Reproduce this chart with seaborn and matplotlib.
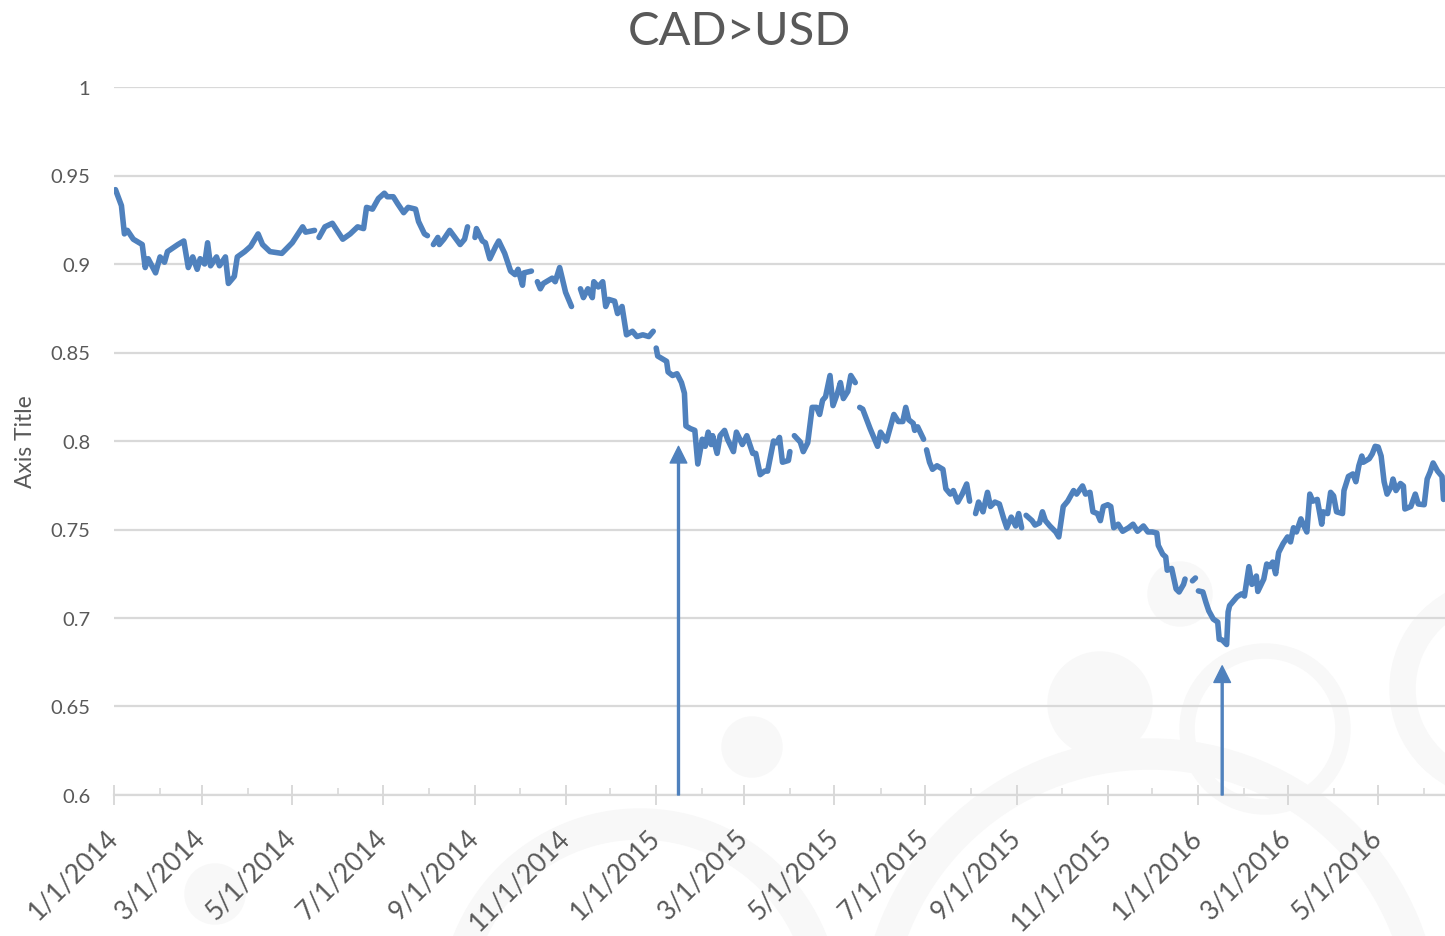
import numpy as np
import pandas as pd
import matplotlib
matplotlib.use('Agg')
import matplotlib.pyplot as plt
from matplotlib.patches import Circle, Wedge
import seaborn as sns

# CAD>USD daily rate (day offset from 1/1/2014, value); nan = gap in the line
days = [
    1, 5, 7, 9, 13, 19, 21, 23, 28, 31, 34, 36, 43, 47, 50, 53, 56, 58, 61, 63,
    65, 69, 71, 75, 77, 81, 83, 88, 92, 97, 100, 105, 113, 120, 127, 129, 135, 136, 138, 142,
    147, 154, 159, 164, 168, 170, 174, 178, 182, 184, 188, 191, 195, 198, 203, 205, 209, 211, 212, 215,
    218, 219, 222, 226, 233, 236, 238, 240, 243, 244, 248, 250, 253, 257, 259, 263, 267, 270, 272, 275,
    276, 281, 283, 285, 287, 289, 295, 297, 300, 304, 308, 310, 314, 316, 319, 322, 323, 326, 329, 331,
    333, 337, 339, 342, 345, 349, 352, 356, 360, 363, 364, 365, 366, 370, 372, 373, 376, 379, 382, 384,
    385, 388, 391, 393, 396, 398, 400, 402, 403, 406, 408, 411, 413, 417, 419, 423, 426, 430, 432, 435,
    438, 440, 444, 446, 448, 450, 454, 455, 456, 458, 462, 464, 467, 470, 473, 475, 477, 479, 482, 484,
    487, 489, 491, 494, 496, 499, 501, 502, 504, 509, 511, 514, 516, 520, 525, 528, 531, 533, 535, 538,
    539, 541, 545, 546, 547, 549, 551, 554, 558, 560, 563, 565, 568, 571, 574, 576, 577, 580, 582, 585,
    588, 590, 593, 596, 599, 601, 604, 607, 609, 611, 612, 614, 618, 620, 623, 625, 627, 630, 634, 636,
    639, 642, 646, 647, 648, 652, 654, 657, 659, 662, 664, 666, 669, 671, 673, 676, 679, 683, 686, 689,
    693, 696, 699, 702, 703, 706, 708, 709, 712, 715, 717, 720, 721, 723, 726, 728, 729, 730, 733, 735,
    737, 740, 743, 744, 746, 749, 750, 751, 753, 756, 759, 761, 764, 766, 769, 770, 774, 776, 778, 780,
    782, 784, 787, 790, 792, 794, 796, 799, 801, 803, 805, 807, 810, 813, 814, 817, 819, 821, 823, 827,
    828, 831, 834, 836, 838, 840, 841, 845, 847, 849, 851, 853, 855, 857, 860, 861, 863, 866, 868, 869,
    873, 876, 878, 882, 884, 886, 888, 891, 894, 895,
]
nan = np.nan
rates = [
    .942, .933, .917, .919, .914, .911, .898, .903, .895, .904, .901, .907, .911, .913, .898, .904, .897, .903, .900, .912,
    .899, .904, .899, .904, .889, .893, .904, .907, .910, .917, .911, .907, .906, .912, .921, .918, .919, nan, .915, .921,
    .923, .914, .917, .921, .920, .932, .931, .937, .940, .938, .938, .934, .929, .932, .931, .924, .917, .916, nan, .911,
    .915, .911, .914, .919, .911, .914, .921, nan, .915, .920, .913, .912, .903, .910, .913, .906, .896, .894, .897, .888,
    .895, .896, nan, .890, .886, .889, .892, .890, .898, .884, .876, nan, .886, .881, .886, .881, .890, .887, .890, .876,
    .880, .879, .872, .876, .860, .862, .859, .860, .859, .862, nan, .8525, .848, .846, .845, .839, .837, .838, .833, .827,
    .8085, .807, .806, .787, .801, .797, .805, .798, .803, .793, .803, .806, .801, .794, .805, .798, .803, .793, .793, .781,
    .783, .783, .800, .799, .802, .788, .789, .794, nan, .803, .7994, .794, .799, .819, .819, .815, .823, .825, .837, .820,
    .827, .833, .824, .828, .837, .833, nan, .819, .818, .807, .803, .797, .805, .800, .815, .811, .811, .819, .812, .810,
    .806, .808, .801, nan, .795, .788, .784, .786, .784, .773, .770, .772, .7655, .770, .7757, .766, nan, .759, .7655, .760,
    .771, .763, .7655, .7644, .756, .751, .757, .752, .759, .751, nan, .758, .755, .7525, .7537, .760, .755, .752, .7486, .7458,
    .763, .766, .772, nan, .770, .7746, .770, .771, .760, .759, .755, .763, .764, .763, .751, .753, .749, .751, .753, .749,
    .752, .7486, .7486, .748, .741, .736, .7345, .727, .728, .7164, .7147, .719, .722, nan, .721, .7226, nan, .7153, .7147, .709,
    .704, .6994, .6977, .688, .6876, .685, .7034, .707, .709, .712, .7136, .7124, .729, .719, .7237, .715, .722, .7305, .729, .7316,
    .725, .737, .742, .7458, .743, .751, .7486, .756, .752, .7486, .770, .766, .767, .753, .760, .759, .771, .769, .760, .759,
    .772, .780, .7814, .777, .786, .7915, .788, .790, .7927, .797, .7966, .7915, .777, .770, .7746, .7785, .772, .776, .7746, .7616,
    .763, .770, .7644, .764, .7785, .7825, .7876, .783, .780, .767,
]

# arrows marking the two drops (day offset, height of the arrow tip)
arrow_days = [380, 746]
arrow_tops = [0.797, 0.673]

BLUE = '#4f81bd'
GRID = '#d9d9d9'
TEXT = '#595959'
W, H = 1445, 937

start = pd.Timestamp('2014-01-01')
df = pd.DataFrame({'date': start + pd.to_timedelta(days, unit='D'), 'rate': rates})
df['seg'] = df['rate'].isna().cumsum()
df = df.dropna()

sns.set_theme(style='white')
plt.rcParams['font.family'] = ['Lato', 'DejaVu Sans']

fig = plt.figure(figsize=(W / 100, H / 100), dpi=100)
fig.patch.set_facecolor('white')

# faint watermark rings in the background
def px(x, y):
    return (x / 100, (H - y) / 100)

wm = '#f8f8f8'
for (cx, cy, r) in [(752, 748, 30), (1100, 705, 52), (1180, 595, 32), (215, 895, 30)]:
    fig.add_artist(Circle(px(cx, cy), r / 100, color=wm, transform=fig.dpi_scale_trans, zorder=-2))
for (cx, cy, r, w) in [(1265, 730, 85, 14), (1500, 690, 110, 25), (1150, 1030, 290, 30), (640, 1010, 200, 30)]:
    fig.add_artist(Wedge(px(cx, cy), r / 100, 0, 360, width=w / 100, color=wm,
                         transform=fig.dpi_scale_trans, zorder=-2))

ax = fig.add_axes([114 / W, 1 - 796 / H, (W - 114) / W, (796 - 88) / H])
ax.set_facecolor('none')

sns.lineplot(data=df, x='date', y='rate', units='seg', estimator=None, color=BLUE,
             lw=4.0, solid_capstyle='round', solid_joinstyle='round', legend=False, ax=ax, zorder=3)

for d, top in zip(arrow_days, arrow_tops):
    dt = start + pd.Timedelta(days=d)
    ax.annotate('', xy=(dt, top), xytext=(dt, 0.6),
                arrowprops=dict(width=1.4, headwidth=12, headlength=12, shrink=0,
                                facecolor=BLUE, edgecolor=BLUE), zorder=4)

ax.set_xlim(start, start + pd.Timedelta(days=896))
ax.set_ylim(0.6, 1.0)
yt = np.round(np.arange(0.6, 1.0001, 0.05), 2)
ax.set_yticks(yt, labels=[f'{v:g}' for v in yt])

major = pd.date_range('2014-01-01', '2016-05-01', freq='2MS')
minor = pd.date_range('2014-01-01', '2016-06-01', freq='MS')
ax.set_xticks(major, labels=[f'{d.month}/{d.day}/{d.year}' for d in major],
              rotation=45, ha='right', va='center', rotation_mode='anchor')
ax.set_xticks(minor, minor=True)

ax.grid(False)
ax.yaxis.grid(True, color=GRID, lw=1.6)
ax.set_axisbelow(True)
for s in ['top', 'right', 'left']:
    ax.spines[s].set_visible(False)
ax.spines['bottom'].set_color(GRID)
ax.spines['bottom'].set_linewidth(1.6)

ax.tick_params(axis='y', length=0, pad=17, labelsize=14.5, labelcolor=TEXT)
ax.tick_params(axis='x', which='major', direction='inout', length=15, width=1.4,
               color=GRID, labelsize=19, labelcolor=TEXT, pad=20, bottom=True)
ax.tick_params(axis='x', which='minor', direction='in', length=5, width=1.2, color=GRID, bottom=True)

ax.set_xlabel('')
ax.set_ylabel('Axis Title', fontsize=16.5, color=TEXT, labelpad=10)

fig.text(739 / W, 1 - 45 / H, 'CAD>USD', ha='center', va='baseline',
         fontsize=34, fontweight='normal', color=TEXT)

fig.savefig('out.png', dpi=100)
